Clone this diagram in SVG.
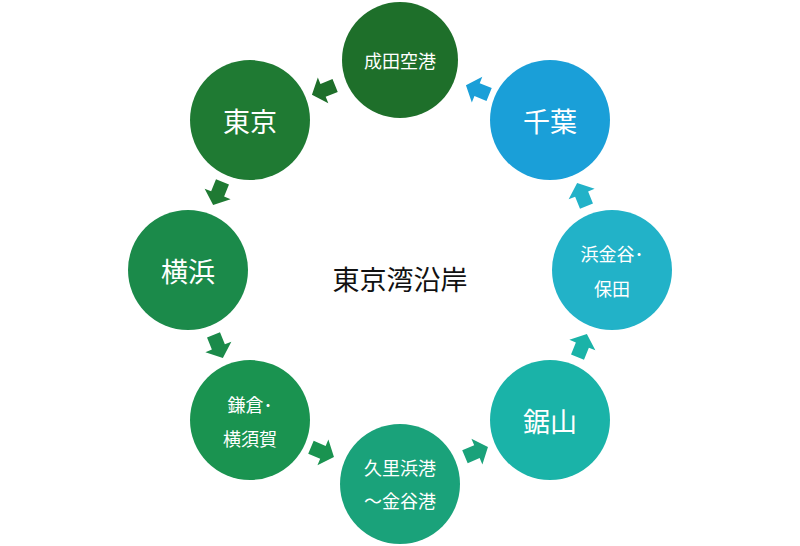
<svg xmlns="http://www.w3.org/2000/svg" width="800" height="546" viewBox="0 0 800 546">
<defs>
<style>
text{font-family:"Noto Sans CJK JP","Noto Sans CJK SC",sans-serif;text-anchor:middle;dominant-baseline:central}
.w{fill:#fff}
.big{font-size:27px}
.sm{font-size:18px}
</style>
<path id="ar" d="M-12,-7 L1,-7 L1,-14 L13,0 L1,14 L1,7 L-12,7 Z"/>
</defs>
<rect width="800" height="546" fill="#fff"/>
<g id="connectors">
<use href="#ar" fill="#1a9fd8" transform="translate(478,90) rotate(202)"/>
<use href="#ar" fill="#1e6f2a" transform="translate(324,90) rotate(158)"/>
<use href="#ar" fill="#1f7a33" transform="translate(218,193) rotate(112)"/>
<use href="#ar" fill="#1b8a4a" transform="translate(218,346) rotate(68)"/>
<use href="#ar" fill="#1a9350" transform="translate(322,452) rotate(23)"/>
<use href="#ar" fill="#1aa27a" transform="translate(476,452) rotate(-23)"/>
<use href="#ar" fill="#1ab3a8" transform="translate(582,346) rotate(-68)"/>
<use href="#ar" fill="#22b2c8" transform="translate(582,195) rotate(-112)"/>
</g>
<g id="narita"><circle cx="400" cy="60" r="58" fill="#1e6f2a"/><text class="w sm" x="400" y="60">成田空港</text></g>
<g id="tokyo"><circle cx="250" cy="120" r="60" fill="#1f7a33"/><text class="w big" x="250" y="120">東京</text></g>
<g id="yokohama"><circle cx="188" cy="270" r="60" fill="#1b8a4a"/><text class="w big" x="188" y="270">横浜</text></g>
<g id="kamakura"><circle cx="250" cy="420" r="60" fill="#1a9350"/><text class="w sm" x="250" y="404">鎌倉･</text><text class="w sm" x="250" y="438">横須賀</text></g>
<g id="kurihama"><circle cx="400" cy="484" r="60" fill="#1aa27a"/><text class="w sm" x="400" y="467">久里浜港</text><text class="w sm" x="400" y="500">～金谷港</text></g>
<g id="nokogiri"><circle cx="550" cy="420" r="60" fill="#1ab3a8"/><text class="w big" x="550" y="420">鋸山</text></g>
<g id="hamakanaya"><circle cx="612" cy="270" r="60" fill="#22b2c8"/><text class="w sm" x="612" y="253">浜金谷･</text><text class="w sm" x="612" y="288">保田</text></g>
<g id="chiba"><circle cx="550" cy="120" r="60" fill="#1a9fd8"/><text class="w big" x="550" y="120">千葉</text></g>
<g id="center"><text class="big" x="400" y="278" fill="#111">東京湾沿岸</text></g>
</svg>
